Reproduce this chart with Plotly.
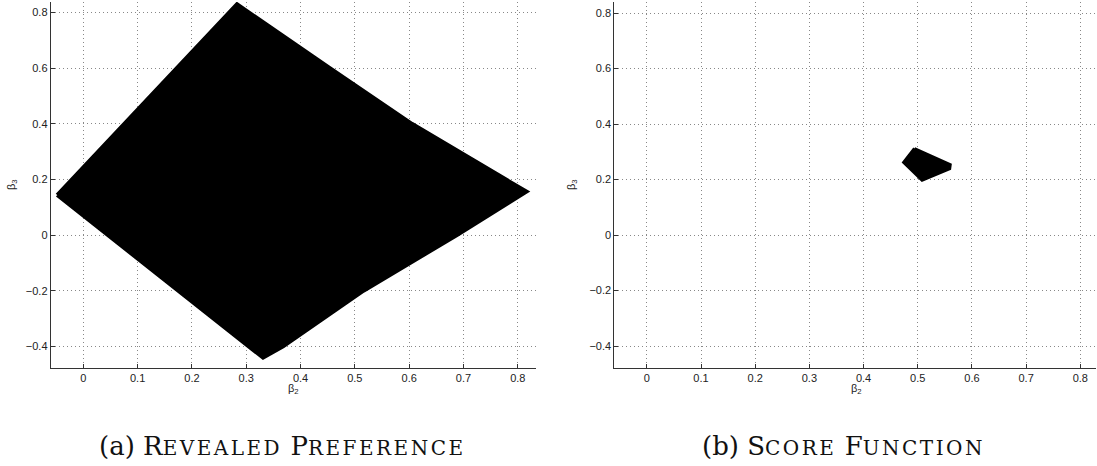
import plotly.graph_objects as go

# (a) revealed preference region, outline points (beta2, beta3)
rp_beta2 = [-0.048, 0.283, 0.454, 0.605, 0.816, 0.688, 0.516, 0.368, 0.331, -0.048]
rp_beta3 = [0.144, 0.830, 0.600, 0.400, 0.156, 0.000, -0.200, -0.400, -0.441, 0.144]

# (b) score function region
sf_beta2 = [0.494, 0.474, 0.508, 0.559, 0.560, 0.494]
sf_beta3 = [0.312, 0.262, 0.198, 0.239, 0.254, 0.312]

x_ticks = [0, 0.1, 0.2, 0.3, 0.4, 0.5, 0.6, 0.7, 0.8]
y_ticks = [-0.4, -0.2, 0, 0.2, 0.4, 0.6, 0.8]

W, H = 1097, 466
TICKFONT = dict(family="Liberation Sans, Arial", size=11, color="#222")
LABFONT = dict(family="Liberation Sans, Arial", size=11, color="#222")
CAPFONT = dict(family="DejaVu Serif, serif", size=26, color="#111")


def small_caps(word, small=20):
    return (word[0] + f"<span style='font-size:{small}px;letter-spacing:2.5px'>"
            f"{word[1:].upper()}</span>")


fig = go.Figure()

fig.add_trace(go.Scatter(
    x=rp_beta2, y=rp_beta3, mode="lines", fill="toself",
    fillcolor="black", line=dict(color="black", width=4),
    showlegend=False, hoverinfo="skip", xaxis="x", yaxis="y",
))
fig.add_trace(go.Scatter(
    x=sf_beta2, y=sf_beta3, mode="lines", fill="toself",
    fillcolor="black", line=dict(color="black", width=3),
    showlegend=False, hoverinfo="skip", xaxis="x2", yaxis="y2",
))

ax_common = dict(
    showline=True, linecolor="#333", linewidth=1, mirror=False,
    ticks="inside", ticklen=4, tickcolor="#333", tickwidth=1,
    showgrid=True, gridcolor="#888", gridwidth=1, griddash="1px,3px",
    zeroline=False, tickfont=TICKFONT, automargin=False,
    ticklabeloverflow="allow",
)

ydom = [(H - 367.7) / H, (H - 2) / H]

fig.update_layout(
    width=W, height=H,
    margin=dict(l=0, r=0, t=0, b=0),
    paper_bgcolor="white", plot_bgcolor="white",
    xaxis=dict(domain=[50.7 / W, 535.7 / W], range=[-0.060, 0.833],
               tickvals=x_ticks, anchor="y", **ax_common),
    yaxis=dict(domain=ydom, range=[-0.477, 0.838], tickvals=y_ticks, anchor="x",
               **ax_common),
    xaxis2=dict(domain=[614.3 / W, 1096 / W], range=[-0.060, 0.829],
                tickvals=x_ticks, anchor="y2", **ax_common),
    yaxis2=dict(domain=ydom, range=[-0.478, 0.84], tickvals=y_ticks, anchor="x2",
                **ax_common),
)

# axis titles
for xc in (293, 856):
    fig.add_annotation(text="β<sub>2</sub>", x=xc / W, y=(H - 389) / H,
                       xref="paper", yref="paper", showarrow=False,
                       font=LABFONT, xanchor="center", yanchor="middle")
for xc in (12, 572):
    fig.add_annotation(text="β<sub>3</sub>", x=xc / W, y=(H - 185) / H,
                       xref="paper", yref="paper", showarrow=False, textangle=-90,
                       font=LABFONT, xanchor="center", yanchor="middle")

# captions
fig.add_annotation(
    text="(a) " + small_caps("Revealed") + " " + small_caps("Preference"),
    x=282 / W, y=(H - 446) / H, xref="paper", yref="paper",
    showarrow=False, font=CAPFONT, xanchor="center", yanchor="middle",
)
fig.add_annotation(
    text="(b) " + small_caps("Score") + " " + small_caps("Function"),
    x=843 / W, y=(H - 446) / H, xref="paper", yref="paper",
    showarrow=False, font=CAPFONT, xanchor="center", yanchor="middle",
)

fig.write_html("out.html", config={"displayModeBar": False},
               post_script="document.body.style.margin='0';")
